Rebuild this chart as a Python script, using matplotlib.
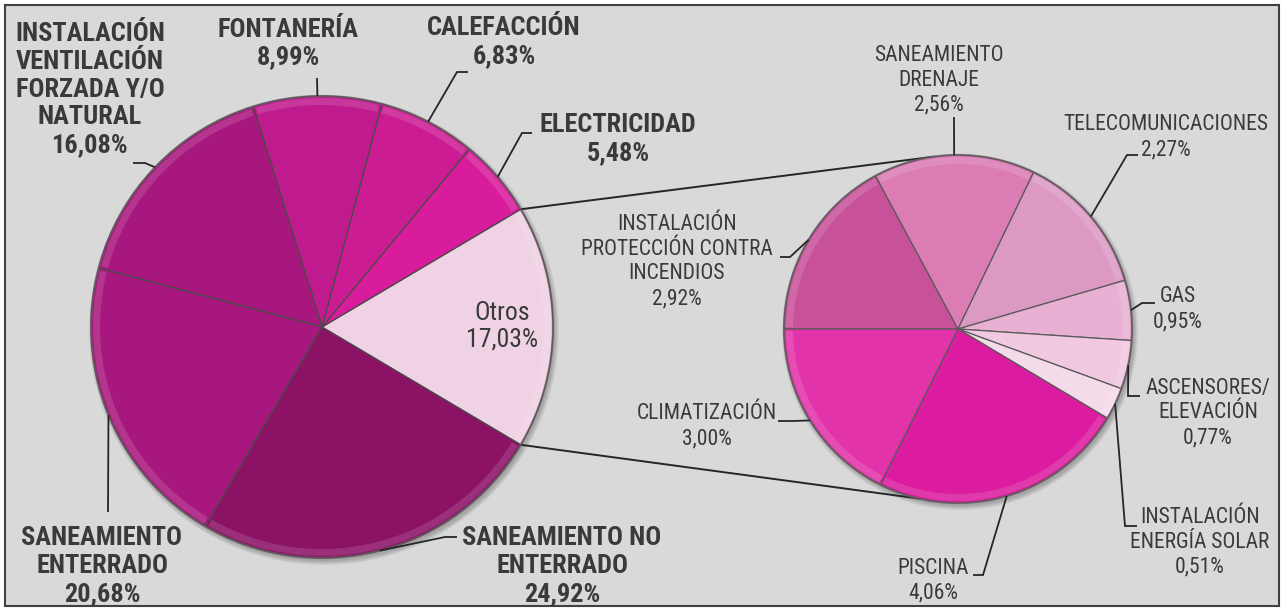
import os
import numpy as np
import matplotlib
matplotlib.use("Agg")
import matplotlib.pyplot as plt
from matplotlib import font_manager
from matplotlib.font_manager import FontProperties
from matplotlib.textpath import TextPath
from matplotlib.patches import Rectangle, Circle, Wedge

#data ---
left_names = ["Otros", "ELECTRICIDAD", "CALEFACCIÓN", "FONTANERÍA",
              "INSTALACIÓN\nVENTILACIÓN\nFORZADA Y/O\nNATURAL",
              "SANEAMIENTO\nENTERRADO", "SANEAMIENTO NO\nENTERRADO"]
left_values = [17.03, 5.48, 6.83, 8.99, 16.08, 20.68, 24.92]
left_colors = ["#efd2e3", "#d81c9c", "#cc1c94", "#c01b8e", "#a8177e", "#a8177e", "#8c1266"]

right_names = ["INSTALACIÓN\nPROTECCIÓN CONTRA\nINCENDIOS", "SANEAMIENTO\nDRENAJE",
               "TELECOMUNICACIONES", "GAS", "ASCENSORES/\nELEVACIÓN",
               "INSTALACIÓN\nENERGÍA SOLAR", "PISCINA", "CLIMATIZACIÓN"]
right_values = [2.92, 2.56, 2.27, 0.95, 0.77, 0.51, 4.06, 3.00]
right_colors = ["#c8529a", "#db7cb5", "#dc99c4", "#e8b1d3", "#f0c8e0", "#f5dbea", "#dc1ca0", "#e233aa"]

#layout (pixels, measured from top-left of picture) ---
W, H = 1284, 611
LEFT_C, LEFT_R = (322, 327), 231
RIGHT_C, RIGHT_R = (958, 329), 174

left_text = [(502, 326), (618, 139), (504, 42), (288, 43.5), (90, 89.5), (102, 566), (562, 566)]
left_leader = [None, [(522, 133), (532, 133)], [(457, 72), (468, 72)], [(317, 78)],
               [(145, 163), (133, 163)], [(108, 512)], [(445, 537), (457, 537)]]
right_text = [(677, 261.5), (939, 80), (1166, 137), (1178, 309), (1208, 413),
              (1200, 542), (933, 580.5), (707, 426)]
right_leader = [[(790, 257), (780, 257)], [(954, 117)], [(1127, 155), (1138, 155)],
                [(1142, 303), (1155, 303)], [(1128, 396), (1140, 396)],
                [(1125, 526), (1137, 526)], [(983, 575), (973, 575)],
                [(793, 421), (778, 421)]]
CONNECT_ANGLES = (98, -103)

#font: the original uses a narrow sans, pick the narrowest one installed
def find_font(bold):
    prefs = ["LiberationSansNarrow", "RobotoCondensed", "NotoSans-Condensed",
             "OpenSans_Condensed", "OpenSansCondensed", "DejaVuSansCondensed"]
    files = sorted({f.fname for f in font_manager.fontManager.ttflist})
    bad = ["Italic", "Oblique", "Light", "Thin", "Medium", "Black", "Semi", "Extra"]
    for p in prefs:
        for fn in files:
            base = os.path.basename(fn)
            if not base.startswith(p) or any(b in base for b in bad):
                continue
            rest = base[len(p):]
            if bold and "Bold" in rest:
                return fn
            if not bold and "Bold" not in rest:
                return fn
    return None


reg_file, bold_file = find_font(False), find_font(True)
if reg_file and bold_file:
    FP_REG = FontProperties(fname=reg_file)
    FP_BOLD = FontProperties(fname=bold_file)
else:
    FP_REG = FontProperties(family="Liberation Sans")
    FP_BOLD = FontProperties(family="Liberation Sans", weight="bold")
TXT = "#3a3a3a"


def fit(prop, sample, width_px, max_pt, step_px):
    #font size so that sample is width_px wide, line spacing giving step_px per line
    ext = TextPath((0, 0), sample, size=10, prop=prop).get_extents()
    size = min(max_pt, width_px * 10 * 72 / (100 * ext.width))
    lp = TextPath((0, 0), "lp", size=10, prop=prop).get_extents()
    unit = size / 10 * 100 / 72
    ls = (step_px / unit + lp.y0) / lp.y1
    p = prop.copy()
    p.set_size(size)
    return p, ls


FP_L, LS_L = fit(FP_BOLD, "INSTALACIÓN", 156, 19, 29)
FP_O, LS_O = fit(FP_REG, "17,03%", 76, 18.5, 27.5)
FP_R, LS_R = fit(FP_REG, "TELECOMUNICACIONES", 212, 15.5, 24.5)


def P(x, y):
    return (x, H - y)


def pct(v):
    return f"{v:.2f}".replace(".", ",") + "%"


fig = plt.figure(figsize=(W / 100, H / 100), dpi=100)
ax = fig.add_axes([0, 0, 1, 1])

ax.add_patch(Rectangle(P(5, 606), 1274, 601, facecolor="#d9d9d9",
                       edgecolor="#404040", linewidth=1.5, zorder=0))

#soft shadow behind pies
for c, r in [(LEFT_C, LEFT_R), (RIGHT_C, RIGHT_R)]:
    for k in range(5):
        ax.add_patch(Circle(P(c[0] + 2, c[1] + 3), r + 4 - k, facecolor="#000000",
                            alpha=0.05, edgecolor="none", zorder=1))

lw, _ = ax.pie(left_values, colors=left_colors, startangle=-left_values[0] / 100 * 180,
               counterclock=True, radius=LEFT_R, center=P(*LEFT_C), frame=False,
               wedgeprops=dict(edgecolor="#4a4a4a", linewidth=0.9))
rw, _ = ax.pie(right_values, colors=right_colors, startangle=180,
               counterclock=False, radius=RIGHT_R, center=P(*RIGHT_C), frame=False,
               wedgeprops=dict(edgecolor="#5a5a5a", linewidth=0.9))
for w in lw + rw:
    w.set_zorder(3)

#light bevel along the rim of every slice
for wedges, c, r in [(lw, LEFT_C, LEFT_R), (rw, RIGHT_C, RIGHT_R)]:
    for w in wedges:
        ax.add_patch(Wedge(P(*c), r - 2, w.theta1 + 0.6, w.theta2 - 0.6, width=7,
                           facecolor="white", alpha=0.13, edgecolor="none", zorder=3.5))
    ax.add_patch(Circle(P(*c), r, facecolor="none", edgecolor="#6b5a64",
                        linewidth=1.6, alpha=0.7, zorder=3.6))


def edge_point(center, r, ang):
    cx, cy = P(*center)
    a = np.deg2rad(ang)
    return cx + r * np.cos(a), cy + r * np.sin(a)


#connector lines between the two pies
ow = lw[0]
for ang_l, ang_r in [(ow.theta2, CONNECT_ANGLES[0]), (ow.theta1, CONNECT_ANGLES[1])]:
    x0, y0 = edge_point(LEFT_C, LEFT_R, ang_l)
    x1, y1 = edge_point(RIGHT_C, RIGHT_R, ang_r)
    ax.plot([x0, x1], [y0, y1], color="#262626", lw=1.4, zorder=2)


def draw_leaders(wedges, center, r, leaders):
    for w, pts in zip(wedges, leaders):
        if pts is None:
            continue
        mid = (w.theta1 + w.theta2) / 2
        x0, y0 = edge_point(center, r, mid)
        xs, ys = [x0], [y0]
        for p in pts:
            xs.append(p[0])
            ys.append(H - p[1])
        ax.plot(xs, ys, color="#262626", lw=1.3, zorder=4,
                solid_capstyle="butt", solid_joinstyle="miter")


draw_leaders(lw, LEFT_C, LEFT_R, left_leader)
draw_leaders(rw, RIGHT_C, RIGHT_R, right_leader)

#labels
for i, (n, v, pos) in enumerate(zip(left_names, left_values, left_text)):
    fp, ls = (FP_O, LS_O) if i == 0 else (FP_L, LS_L)
    ax.text(*P(*pos), n + "\n" + pct(v), ha="center", va="center",
            fontproperties=fp, color=TXT, linespacing=ls, zorder=5)
for n, v, pos in zip(right_names, right_values, right_text):
    ax.text(*P(*pos), n + "\n" + pct(v), ha="center", va="center",
            fontproperties=FP_R, color=TXT, linespacing=LS_R, zorder=5)

ax.set_xlim(0, W)
ax.set_ylim(0, H)
ax.axis("off")
fig.savefig("out.png", dpi=100, facecolor="white")
